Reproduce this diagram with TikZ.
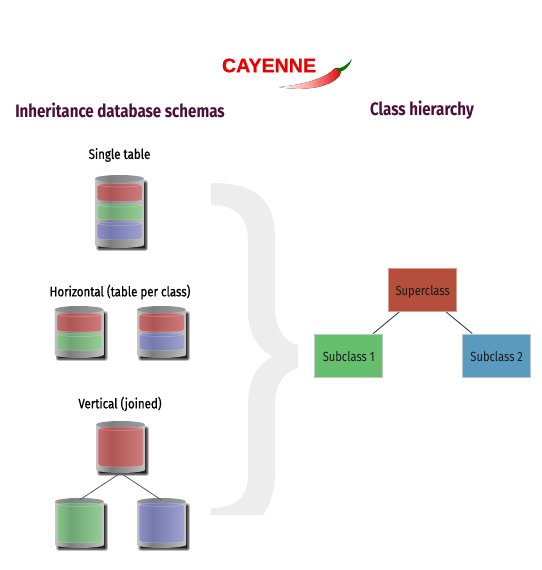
\documentclass[tikz,border=0pt]{standalone}
\usepackage{fontspec}
\setmainfont{Liberation Sans}
\newfontfamily\hfont[FakeStretch=0.84]{Fira Sans}
\newfontfamily\sfont[FakeStretch=0.84,FakeBold=0.7]{Fira Sans}
\newfontfamily\lfont[FakeBold=0.6]{Liberation Sans}
\usetikzlibrary{calc}
\definecolor{headc}{HTML}{4A0F38}
\definecolor{supc}{HTML}{B54E3A}
\definecolor{subac}{HTML}{66BF6D}
\definecolor{subbc}{HTML}{5A9ABF}
\definecolor{bracec}{HTML}{EDEDED}
\definecolor{ca}{HTML}{C4C4C4}\definecolor{cb}{HTML}{A6A6A6}\definecolor{cc}{HTML}{7C7C7C}\definecolor{cd}{HTML}{A0A0A0}
\definecolor{ta}{HTML}{989C9C}\definecolor{tb}{HTML}{7C8080}\definecolor{tc}{HTML}{9CA0A0}
\pgfdeclarehorizontalshading{cylbody}{100bp}{color(0bp)=(ca); color(25bp)=(ca); color(31bp)=(cb); color(40bp)=(cc); color(60bp)=(cd); color(75bp)=(ca); color(100bp)=(ca)}
\pgfdeclarehorizontalshading{cyltop}{100bp}{color(0bp)=(ta); color(25bp)=(ta); color(40bp)=(tb); color(75bp)=(tc); color(100bp)=(tc)}
\definecolor{ra}{HTML}{C46A6A}\definecolor{rb}{HTML}{AE5656}\definecolor{rc}{HTML}{D07C7C}
\definecolor{ga}{HTML}{88C488}\definecolor{gb}{HTML}{6FA574}\definecolor{gc}{HTML}{94CE94}
\definecolor{ba}{HTML}{8E90C4}\definecolor{bb}{HTML}{7579AE}\definecolor{bc}{HTML}{A0A2D0}
\pgfdeclarehorizontalshading{bandr}{100bp}{color(0bp)=(ra); color(25bp)=(ra); color(40bp)=(rb); color(75bp)=(rc); color(100bp)=(rc)}
\pgfdeclarehorizontalshading{bandg}{100bp}{color(0bp)=(ga); color(25bp)=(ga); color(40bp)=(gb); color(75bp)=(gc); color(100bp)=(gc)}
\pgfdeclarehorizontalshading{bandb}{100bp}{color(0bp)=(ba); color(25bp)=(ba); color(40bp)=(bb); color(75bp)=(bc); color(100bp)=(bc)}
\tikzset{
  heading/.style={font=\hfont\bfseries\fontsize{18}{20}\selectfont,text=headc,inner sep=0pt},
  sublabel/.style={font=\sfont\fontsize{13.7}{15}\selectfont,text=black,inner sep=0pt},
  classlabel/.style={font=\hfont\fontsize{13.3}{15}\selectfont,text=black!90},
  classbox/.style={minimum width=68pt,minimum height=43pt,inner sep=0pt,line width=1pt},
  link/.style={draw=black!75,line width=.9pt},
  dblink/.style={draw=black!65,line width=.8pt},
}
% band inside a cylinder (cylinder-local frame)
\newcommand\dbband[3]{%
  \shade[shading=#3,rounded corners=1.5pt]
    (2.5,#1+1.5) .. controls (9,#1-.3) and (41,#1-.3) .. (47,#1+1.5) -- (47,#2-1.5)
    .. controls (41,#2+.3) and (9,#2+.3) .. (2.5,#2-1.5) -- cycle;
  \draw[white,opacity=.25,line width=.5pt]
    (2.5,#1+1.5) .. controls (9,#1-.3) and (41,#1-.3) .. (47,#1+1.5) -- (47,#2-1.5)
    .. controls (41,#2+.3) and (9,#2+.3) .. (2.5,#2-1.5) -- cycle;
  \draw[white,opacity=.3,line width=.5pt] (2.5,#1+1.5) .. controls (9,#1+4.2) and (41,#1+4.2) .. (47,#1+1.5);
}
% name, x, y, height, bands
\newcommand\dbcyl[5]{%
  \begin{scope}[shift={(#2,#3)}]
    \foreach \sw in {6,4.5,3,1.5}{
      \fill[black,opacity=.24,draw=black,line width=\sw pt,line join=round,draw opacity=.24]
        (4,8) -- (4,#4) -- (50,#4) -- (50,8) -- cycle;
    }
    \shade[shading=cylbody] (0,3.5) -- (0,#4-3) .. controls (6,#4+1) and (43,#4+1) .. (49,#4-3) -- (49,3.5) -- cycle;
    \shade[shading=cyltop] (24.5,3.5) ellipse [x radius=24.5,y radius=3.5];
    #5
    \coordinate (#1-top) at (24.5,2);
    \coordinate (#1-bottom) at (24.5,#4);
  \end{scope}}
\begin{document}
\begin{tikzpicture}[x=1pt,y=-1pt]
\useasboundingbox[fill=white] (0,0) rectangle (541,570);
% logo
\node[inner sep=0pt,anchor=center,text=red!92!black,font=\lfont\bfseries\fontsize{19.6}{20}\selectfont] (logo) at (269,65.5) {CAYENNE};
\fill[left color=white,right color=red!85!black,middle color=red!40!white]
  (279,87) .. controls (300,85) and (322,80) .. (333,70) .. controls (337,65) and (343,70) .. (340,75)
  .. controls (330,89) and (300,91) .. (279,87) -- cycle;
\fill[green!45!black] (336,68) .. controls (342,69) and (347,65) .. (352,59) .. controls (349,67) and (345,71) .. (339,72) -- cycle;
% headings
\node[heading] (h1) at (120,110) {Inheritance database schemas};
\node[heading] (h2) at (422,110) {Class hierarchy};
\node[sublabel] (l1) at (119.5,155) {Single table};
\node[sublabel] (l2) at (120,292) {Horizontal (table per class)};
\node[sublabel] (l3) at (120,404) {Vertical (joined)};
% brace
\fill[bracec] (211,183) .. controls (250,183) and (275,195) .. (275,238) -- (275,308)
  .. controls (275,328) and (284,342) .. (298,345) -- (298,368)
  .. controls (284,371) and (275,385) .. (275,405) -- (275,475)
  .. controls (275,490) and (270,505) .. (263,515) -- (211,515) -- (211,508)
  .. controls (236,508) and (248,497) .. (248,475) -- (248,405)
  .. controls (248,380) and (256,366) .. (272.5,356.5)
  .. controls (256,347) and (248,332) .. (248,310) -- (248,240)
  .. controls (248,217) and (236,205) .. (211,205) -- cycle;
% single table
\dbcyl{st}{95}{175}{73}{\dbband{8.5}{26.5}{bandr}\dbband{28.5}{45}{bandg}\dbband{47}{65}{bandb}}
% horizontal
\dbcyl{ha}{54.5}{306}{52}{\dbband{7}{26}{bandr}\dbband{27}{44.5}{bandg}}
\dbcyl{hb}{137}{306}{52}{\dbband{7}{26}{bandr}\dbband{27}{44.5}{bandb}}
% vertical
\dbcyl{vt}{96}{421}{52}{\dbband{6}{46}{bandr}}
\dbcyl{vl}{55}{498}{50}{\dbband{5}{45}{bandg}}
\dbcyl{vr}{137}{498}{50}{\dbband{5}{45}{bandb}}
\draw[dblink] (vt-bottom) -- (vl-top);
\draw[dblink] (vt-bottom) -- (vr-top);
% class hierarchy
\node[classbox,fill=supc,draw=supc!55!white,classlabel] (sup) at (422.7,290) {\raisebox{-5.5pt}[0pt][0pt]{Superclass}};
\node[classbox,fill=subac,draw=subac!50!gray!50!white,classlabel] (suba) at (348.7,355.5) {\raisebox{-5.5pt}[0pt][0pt]{Subclass 1}};
\node[classbox,fill=subbc,draw=subbc!50!gray!50!white,classlabel] (subb) at (496.7,355.5) {\raisebox{-5.5pt}[0pt][0pt]{Subclass 2}};
\draw[link] (sup.south west) ++(11,0) -- ($(suba.north east)+(-10,0)$);
\draw[link] (sup.south east) ++(-11,0) -- ($(subb.north west)+(10,0)$);
\end{tikzpicture}
\end{document}
